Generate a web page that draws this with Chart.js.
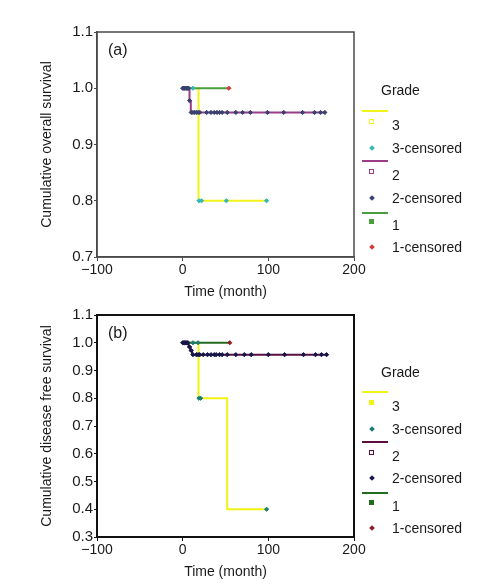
<!DOCTYPE html>
<html>
<head>
<meta charset="utf-8">
<script src="https://cdn.jsdelivr.net/npm/chart.js@4.4.0/dist/chart.umd.min.js"></script>
<style>
body { margin: 0; background: #fff; font-family: "Liberation Sans", Arial, sans-serif; color: #1a1a1a; }
#page { position: relative; width: 481px; height: 588px; overflow: hidden; }
canvas { position: absolute; left: 0; }
.txt { position: absolute; font-size: 14px; line-height: 16px; white-space: nowrap; }
.sw { position: absolute; height: 2px; width: 26px; }
.mk { position: absolute; width: 5px; height: 5px; box-sizing: border-box; }
</style>
</head>
<body>
<div id="page">
  <canvas id="chartA" width="481" height="305" style="top:0"></canvas>
  <canvas id="chartB" width="481" height="283" style="top:305px"></canvas>
</div>
<script>
// ---- values ----
const timeTicks = [-100, 0, 100, 200];
const overallTicks = [0.7, 0.8, 0.9, 1.0, 1.1];
const diseaseFreeTicks = [0.3, 0.4, 0.5, 0.6, 0.7, 0.8, 0.9, 1.0, 1.1];
const gradeNames = ['3', '2', '1'];

// (a) overall survival
const osG3Time = [0, 18.5, 98];
const osG3Surv = [1.0, 0.8, 0.8];
const osG3CensTime = [12, 19, 22, 51, 98];
const osG3CensSurv = [1.0, 0.8, 0.8, 0.8, 0.8];
const osG2Time = [0, 8, 9.5, 167];
const osG2Surv = [1.0, 0.978, 0.957, 0.957];
const osG2CensTime = [0, 1, 2, 3, 4, 5, 6, 7, 8, 10, 12, 14, 16, 18, 20, 28, 33, 37, 40, 43, 46, 52, 62, 70, 79, 99, 118, 140, 154, 161, 166];
const osG2CensSurv = [1, 1, 1, 1, 1, 1, 1, 1, 0.978,
  0.957, 0.957, 0.957, 0.957, 0.957, 0.957, 0.957, 0.957, 0.957, 0.957, 0.957,
  0.957, 0.957, 0.957, 0.957, 0.957, 0.957, 0.957, 0.957, 0.957, 0.957, 0.957];
const osG1Time = [0, 54];
const osG1Surv = [1.0, 1.0];
const osG1CensTime = [54];
const osG1CensSurv = [1.0];

// (b) disease free survival
const dfsG3Time = [0, 18.5, 52, 98];
const dfsG3Surv = [1.0, 0.8, 0.4, 0.4];
const dfsG3CensTime = [12, 18, 19, 21, 98];
const dfsG3CensSurv = [1.0, 1.0, 0.8, 0.8, 0.4];
const dfsG2Time = [0, 7, 9, 11, 168];
const dfsG2Surv = [1.0, 0.985, 0.972, 0.957, 0.957];
const dfsG2CensTime = [0, 1, 2, 3, 4, 5, 6, 8, 10, 12, 16, 18, 20, 24, 29, 33, 37, 39, 43, 46, 52, 62, 72, 80, 100, 119, 141, 155, 162, 168];
const dfsG2CensSurv = [1, 1, 1, 1, 1, 1, 1, 0.985, 0.972,
  0.957, 0.957, 0.957, 0.957, 0.957, 0.957, 0.957, 0.957, 0.957, 0.957, 0.957,
  0.957, 0.957, 0.957, 0.957, 0.957, 0.957, 0.957, 0.957, 0.957, 0.957];
const dfsG1Time = [0, 55];
const dfsG1Surv = [1.0, 1.0];
const dfsG1CensTime = [55];
const dfsG1CensSurv = [1.0];

// helper: zip two arrays into {x, y} points
function pts(t, s) {
    return t.map((x, i) => ({ x: x, y: s[i] }));
}

// box round the plot area
const framePlugin = {
    id: 'frame',
    afterDraw(chart, args, opts) {
        const a = chart.chartArea, ctx = chart.ctx;
        ctx.save();
        ctx.strokeStyle = opts.color;
        ctx.lineWidth = opts.width;
        ctx.strokeRect(a.left, a.top, a.right - a.left, a.bottom - a.top);
        ctx.restore();
    }
};

function buildChart(id, p) {
    const lineDs = (t, s, c) => ({ data: pts(t, s), showLine: true, stepped: 'before', borderColor: c, borderWidth: 2, pointRadius: 0, order: 2 });
    const censDs = (t, s, c) => ({ data: pts(t, s), showLine: false, pointStyle: 'rectRot', pointRadius: 2.1, backgroundColor: c, borderColor: c, borderWidth: 1, order: 1 });
    const font = { family: '"Liberation Sans", Arial, sans-serif', size: 14 };

    return new Chart(document.getElementById(id), {
        type: 'scatter',
        data: {
            datasets: [
                censDs(p.g2[2], p.g2[3], p.cens[1]),
                censDs(p.g1[2], p.g1[3], p.cens[2]),
                censDs(p.g3[2], p.g3[3], p.cens[0]),
                lineDs(p.g1[0], p.g1[1], p.lines[2]),
                lineDs(p.g3[0], p.g3[1], p.lines[0]),
                lineDs(p.g2[0], p.g2[1], p.lines[1])
            ]
        },
        options: {
            responsive: false,
            animation: false,
            layout: { padding: { top: p.top, right: 127, left: 0, bottom: 0 } },
            plugins: {
                legend: { display: false },
                tooltip: { enabled: false },
                frame: { color: p.axis, width: p.axisW }
            },
            scales: {
                x: {
                    type: 'linear',
                    min: timeTicks[0],
                    max: timeTicks[timeTicks.length - 1],
                    afterBuildTicks: s => { s.ticks = timeTicks.map(v => ({ value: v })); },
                    afterFit: s => { s.height = p.xAxisH; },
                    grid: { drawOnChartArea: false, tickLength: 4, color: p.axis },
                    border: { color: p.axis, width: p.axisW },
                    ticks: { font: font, color: '#1a1a1a', padding: 1, maxRotation: 0,
                             callback: v => v < 0 ? '\u2212' + Math.abs(v) : String(v) },
                    title: { display: true, text: 'Time (month)', font: font, color: '#1a1a1a',
                             padding: { top: 0, bottom: p.xTitlePad } }
                },
                y: {
                    type: 'linear',
                    min: p.yTicks[0],
                    max: p.yTicks[p.yTicks.length - 1],
                    afterBuildTicks: s => { s.ticks = p.yTicks.map(v => ({ value: v })); },
                    afterFit: s => { s.width = 97; },
                    grid: { drawOnChartArea: false, tickLength: 3, color: p.axis },
                    border: { color: p.axis, width: p.axisW },
                    ticks: { font: { family: font.family, size: 15 }, color: '#1a1a1a', padding: 1,
                             callback: v => v.toFixed(1) },
                    title: { display: true, text: p.yTitle, font: font, color: '#1a1a1a',
                             padding: { top: 39, bottom: 0 } }
                }
            }
        },
        plugins: [framePlugin]
    });
}

buildChart('chartA', {
    top: 32, xAxisH: 48, xTitlePad: 4,
    yTicks: overallTicks, yTitle: 'Cumulative overall survival',
    axis: '#4a4a4a', axisW: 1.5,
    lines: ['#f3f31c', '#9a3d86', '#4b9e3f'],
    cens: ['#35b7b9', '#3a4170', '#d23b3b'],
    g3: [osG3Time, osG3Surv, osG3CensTime, osG3CensSurv],
    g2: [osG2Time, osG2Surv, osG2CensTime, osG2CensSurv],
    g1: [osG1Time, osG1Surv, osG1CensTime, osG1CensSurv]
});

buildChart('chartB', {
    top: 9, xAxisH: 51, xTitlePad: 7.6,
    yTicks: diseaseFreeTicks, yTitle: 'Cumulative disease free survival',
    axis: '#111', axisW: 2,
    lines: ['#f2f213', '#5a0f3f', '#236b1d'],
    cens: ['#1b7b78', '#16164a', '#8c1f1f'],
    g3: [dfsG3Time, dfsG3Surv, dfsG3CensTime, dfsG3CensSurv],
    g2: [dfsG2Time, dfsG2Surv, dfsG2CensTime, dfsG2CensSurv],
    g1: [dfsG1Time, dfsG1Surv, dfsG1CensTime, dfsG1CensSurv]
});

// ---- legends and panel letters (html, right of each plot) ----
const page = document.getElementById('page');
function add(cls, css, text) {
    const d = document.createElement('div');
    d.className = cls;
    d.style.cssText = css;
    if (text) d.textContent = text;
    page.appendChild(d);
}

function buildLegend(q) {
    add('txt', `left:108px;top:${q.letterY - 9}px;font-size:16px;line-height:18px`, q.letter);
    add('txt', `left:381px;top:${q.titleY - 8}px`, 'Grade');
    gradeNames.forEach((name, g) => {
        const y0 = q.rows[g * 3], y1 = q.rows[g * 3 + 1], y2 = q.rows[g * 3 + 2];
        add('sw', `left:362px;top:${y0 - 1}px;background:${q.lines[g]}`);
        const ev = q.hollow[g]
            ? `border:1.5px solid ${q.marks[g]};background:#fff`
            : `background:${q.marks[g]}`;
        add('mk', `left:369px;top:${y1 - 6}px;${ev}`);
        add('txt', `left:392px;top:${y1 - 8}px`, name);
        add('mk', `left:370px;top:${y2 - 2}px;width:4px;height:4px;transform:rotate(45deg);background:${q.cens[g]}`);
        add('txt', `left:392px;top:${y2 - 8}px`, name + '-censored');
    });
}

buildLegend({
    letter: '(a)', letterY: 50, titleY: 90,
    rows: [111, 125, 148, 161, 175, 198, 213, 225, 247],
    lines: ['#f3f31c', '#9a3d86', '#4b9e3f'],
    marks: ['#f3f31c', '#9a3d86', '#4b9e3f'],
    hollow: [true, true, false],
    cens: ['#35b7b9', '#3a4170', '#d23b3b']
});

buildLegend({
    letter: '(b)', letterY: 333, titleY: 372,
    rows: [392, 406, 429, 442, 456, 478, 493, 506, 528],
    lines: ['#f2f213', '#5a0f3f', '#236b1d'],
    marks: ['#f2f213', '#5a0f3f', '#236b1d'],
    hollow: [false, true, false],
    cens: ['#1b7b78', '#16164a', '#8c1f1f']
});
</script>
</body>
</html>
